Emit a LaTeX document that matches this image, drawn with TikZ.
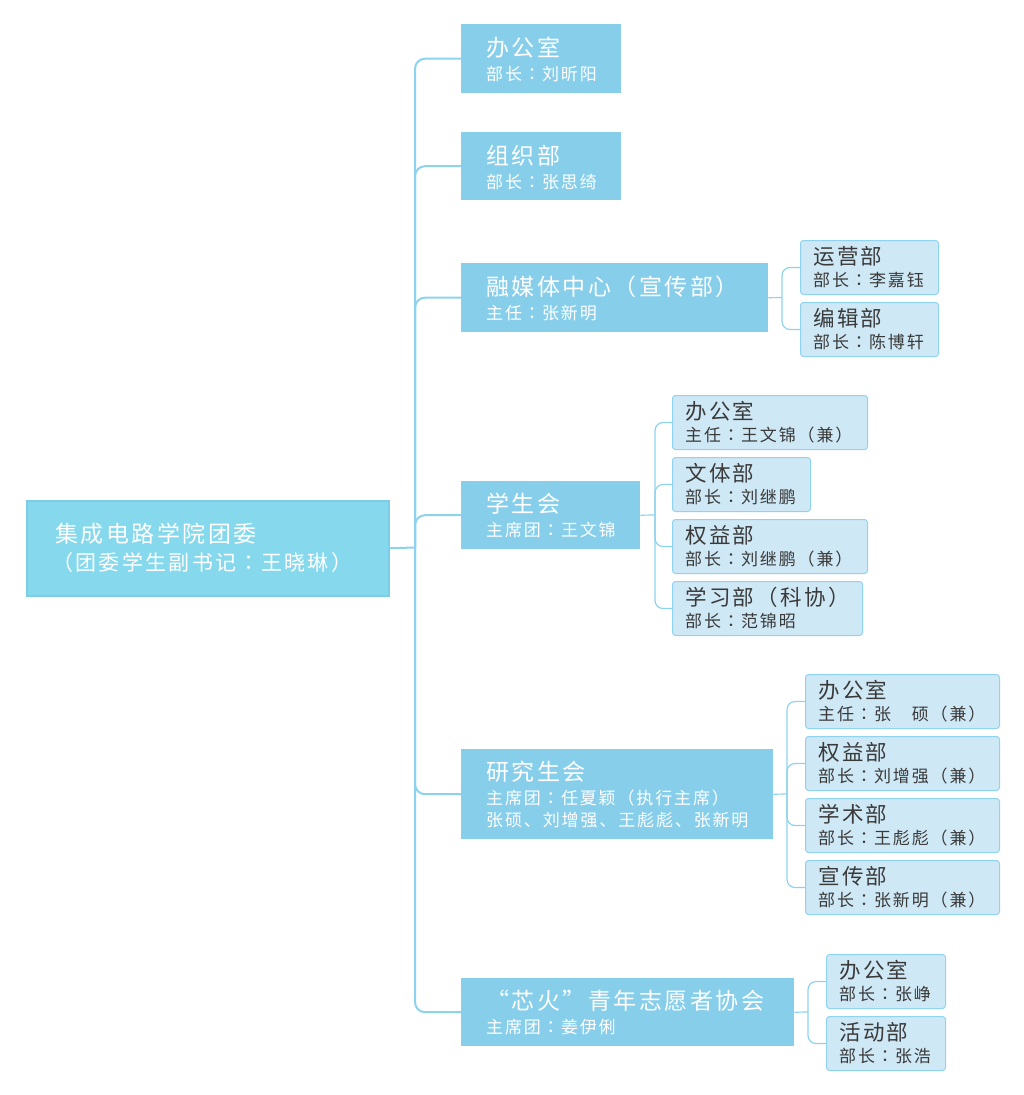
\documentclass[tikz,border=0pt]{standalone}
\usepackage{fontspec}
\newfontfamily\cjk[LetterSpace=11]{Noto Sans CJK SC}
\newfontfamily\cjktc[LetterSpace=11]{Noto Sans CJK TC}
\newcommand{\cc}{{\kern0.09em\cjktc：\kern0.09em}}
\definecolor{rootfill}{HTML}{86D8EC}
\definecolor{rootline}{HTML}{7ECDE8}
\definecolor{lonefill}{HTML}{87CEEB}
\definecolor{ltwofill}{HTML}{CFE8F5}
\definecolor{ltwoline}{HTML}{8FD3EE}
\definecolor{wire}{HTML}{8DD3EE}
\definecolor{dtext}{HTML}{3A3A3A}
\begin{document}
\begin{tikzpicture}[x=1pt,y=-1pt,
  rootbox/.style={draw=rootline, line width=1.5pt, fill=rootfill, anchor=north west, inner sep=0pt},
  lonebox/.style={fill=lonefill, anchor=north west, inner sep=0pt},
  ltwobox/.style={draw=ltwoline, line width=1pt, fill=ltwofill, rounded corners=3pt, anchor=north west, inner sep=0pt},
  roottitle/.style={anchor=base west, inner sep=0pt, text=white, font=\cjk\fontsize{23}{27}\selectfont},
  rootsub/.style={anchor=base west, inner sep=0pt, text=white, font=\cjk\fontsize{21}{25}\selectfont},
  lonetitle/.style={anchor=base west, inner sep=0pt, text=white, font=\cjk\fontsize{23}{27}\selectfont},
  lonesub/.style={anchor=base west, inner sep=0pt, text=white, font=\cjk\fontsize{17}{20}\selectfont},
  ltwotitle/.style={anchor=base west, inner sep=0pt, text=dtext, font=\cjk\fontsize{21.5}{25}\selectfont},
  ltwosub/.style={anchor=base west, inner sep=0pt, text=dtext, font=\cjk\fontsize{17}{20}\selectfont},
  mainwire/.style={draw=wire, line width=2pt, rounded corners=10pt},
  subwire/.style={draw=wire, line width=1.2pt, rounded corners=8pt}
]
\useasboundingbox (0,0) rectangle (1024,1095);

% root
\node[rootbox, minimum width=362pt, minimum height=95pt] (root) at (26,500) {};
\node[roottitle] (roott) at (55,542.7) {集成电路学院团委};
\node[rootsub] (roots) at (52,570) {（团委学生副书记\cc 王晓琳）};

% level 1 boxes
\node[lonebox, minimum width=160pt, minimum height=69pt] (bgs) at (461,24) {};
\node[lonetitle] (bgst) at (486,56.6) {办公室};
\node[lonesub] (bgss) at (486,80.5) {部长\cc 刘昕阳};

\node[lonebox, minimum width=160pt, minimum height=68pt] (zzb) at (461,132) {};
\node[lonetitle] (zzbt) at (486,164.6) {组织部};
\node[lonesub] (zzbs) at (486,188.5) {部长\cc 张思绮};

\node[lonebox, minimum width=307pt, minimum height=69pt] (rmt) at (461,263) {};
\node[lonetitle] (rmtt) at (486,295.6) {融媒体中心（宣传部）};
\node[lonesub] (rmts) at (486,319.5) {主任\cc 张新明};

\node[lonebox, minimum width=179pt, minimum height=68pt] (xsh) at (461,481) {};
\node[lonetitle] (xsht) at (486,512.6) {学生会};
\node[lonesub] (xshs) at (486,536.5) {主席团\cc 王文锦};

\node[lonebox, minimum width=312pt, minimum height=90pt] (yjs) at (461,749) {};
\node[lonetitle] (yjst) at (486,780.6) {研究生会};
\node[lonesub] (yjss) at (486,804.5) {主席团\cc 任夏颖（执行主席）};
\node[lonesub] (yjsm) at (486,826.5) {张硕、刘增强、王彪彪、张新明};

\node[lonebox, minimum width=333pt, minimum height=68pt] (xhx) at (461,978) {};
\node[lonetitle] (xhxt) at (486,1009.6) {“芯火”青年志愿者协会};
\node[lonesub] (xhxs) at (486,1033.5) {主席团\cc 姜伊俐};

% level 2: 融媒体中心
\node[ltwobox, minimum width=138pt, minimum height=54pt] (yyb) at (800,240) {};
\node[ltwotitle] (yybt) at (813,264.5) {运营部};
\node[ltwosub] (yybs) at (813,286.5) {部长\cc 李嘉钰};
\node[ltwobox, minimum width=138pt, minimum height=54pt] (bjb) at (800,302) {};
\node[ltwotitle] (bjbt) at (813,326.5) {编辑部};
\node[ltwosub] (bjbs) at (813,348.5) {部长\cc 陈博轩};

% level 2: 学生会
\node[ltwobox, minimum width=195pt, minimum height=54pt] (sa) at (672,395) {};
\node[ltwotitle] (sat) at (685,419.5) {办公室};
\node[ltwosub] (sas) at (685,441.5) {主任\cc 王文锦（兼）};
\node[ltwobox, minimum width=138pt, minimum height=54pt] (sb) at (672,457) {};
\node[ltwotitle] (sbt) at (685,481.5) {文体部};
\node[ltwosub] (sbs) at (685,503.5) {部长\cc 刘继鹏};
\node[ltwobox, minimum width=195pt, minimum height=54pt] (sc) at (672,519) {};
\node[ltwotitle] (sct) at (685,543.5) {权益部};
\node[ltwosub] (scs) at (685,565.5) {部长\cc 刘继鹏（兼）};
\node[ltwobox, minimum width=190pt, minimum height=54pt] (sd) at (672,581) {};
\node[ltwotitle] (sdt) at (685,605.5) {学习部（科协）};
\node[ltwosub] (sds) at (685,627.5) {部长\cc 范锦昭};

% level 2: 研究生会
\node[ltwobox, minimum width=194pt, minimum height=54pt] (ga) at (805,674) {};
\node[ltwotitle] (gat) at (818,698.5) {办公室};
\node[ltwosub] (gas) at (818,720.5) {主任\cc 张　硕（兼）};
\node[ltwobox, minimum width=194pt, minimum height=54pt] (gb) at (805,736) {};
\node[ltwotitle] (gbt) at (818,760.5) {权益部};
\node[ltwosub] (gbs) at (818,782.5) {部长\cc 刘增强（兼）};
\node[ltwobox, minimum width=194pt, minimum height=54pt] (gc) at (805,798) {};
\node[ltwotitle] (gct) at (818,822.5) {学术部};
\node[ltwosub] (gcs) at (818,844.5) {部长\cc 王彪彪（兼）};
\node[ltwobox, minimum width=194pt, minimum height=54pt] (gd) at (805,860) {};
\node[ltwotitle] (gdt) at (818,884.5) {宣传部};
\node[ltwosub] (gds) at (818,906.5) {部长\cc 张新明（兼）};

% level 2: 芯火
\node[ltwobox, minimum width=119pt, minimum height=54pt] (ha) at (826,954) {};
\node[ltwotitle] (hat) at (839,978.5) {办公室};
\node[ltwosub] (has) at (839,1000.5) {部长\cc 张峥};
\node[ltwobox, minimum width=119pt, minimum height=54pt] (hb) at (826,1016) {};
\node[ltwotitle] (hbt) at (839,1040.5) {活动部};
\node[ltwosub] (hbs) at (839,1062.5) {部长\cc 张浩};

% main connectors
\coordinate (hub) at (415,547.5);
\draw[mainwire] (root.east) -- (hub);
\foreach \c in {bgs,zzb,rmt,xsh,yjs,xhx}
  \draw[mainwire] (hub) |- (\c.west);

% sub connectors
\coordinate (rmhub) at (782,297.5);
\draw[subwire] (rmt.east) -- (rmhub);
\foreach \c in {yyb,bjb} \draw[subwire] (rmhub) |- (\c.west);

\coordinate (xshub) at (655,515);
\draw[subwire] (xsh.east) -- (xshub);
\foreach \c in {sa,sb,sc,sd} \draw[subwire] (xshub) |- (\c.west);

\coordinate (yjhub) at (787,794);
\draw[subwire] (yjs.east) -- (yjhub);
\foreach \c in {ga,gb,gc,gd} \draw[subwire] (yjhub) |- (\c.west);

\coordinate (xhhub) at (808,1012);
\draw[subwire] (xhx.east) -- (xhhub);
\foreach \c in {ha,hb} \draw[subwire] (xhhub) |- (\c.west);
\end{tikzpicture}
\end{document}
